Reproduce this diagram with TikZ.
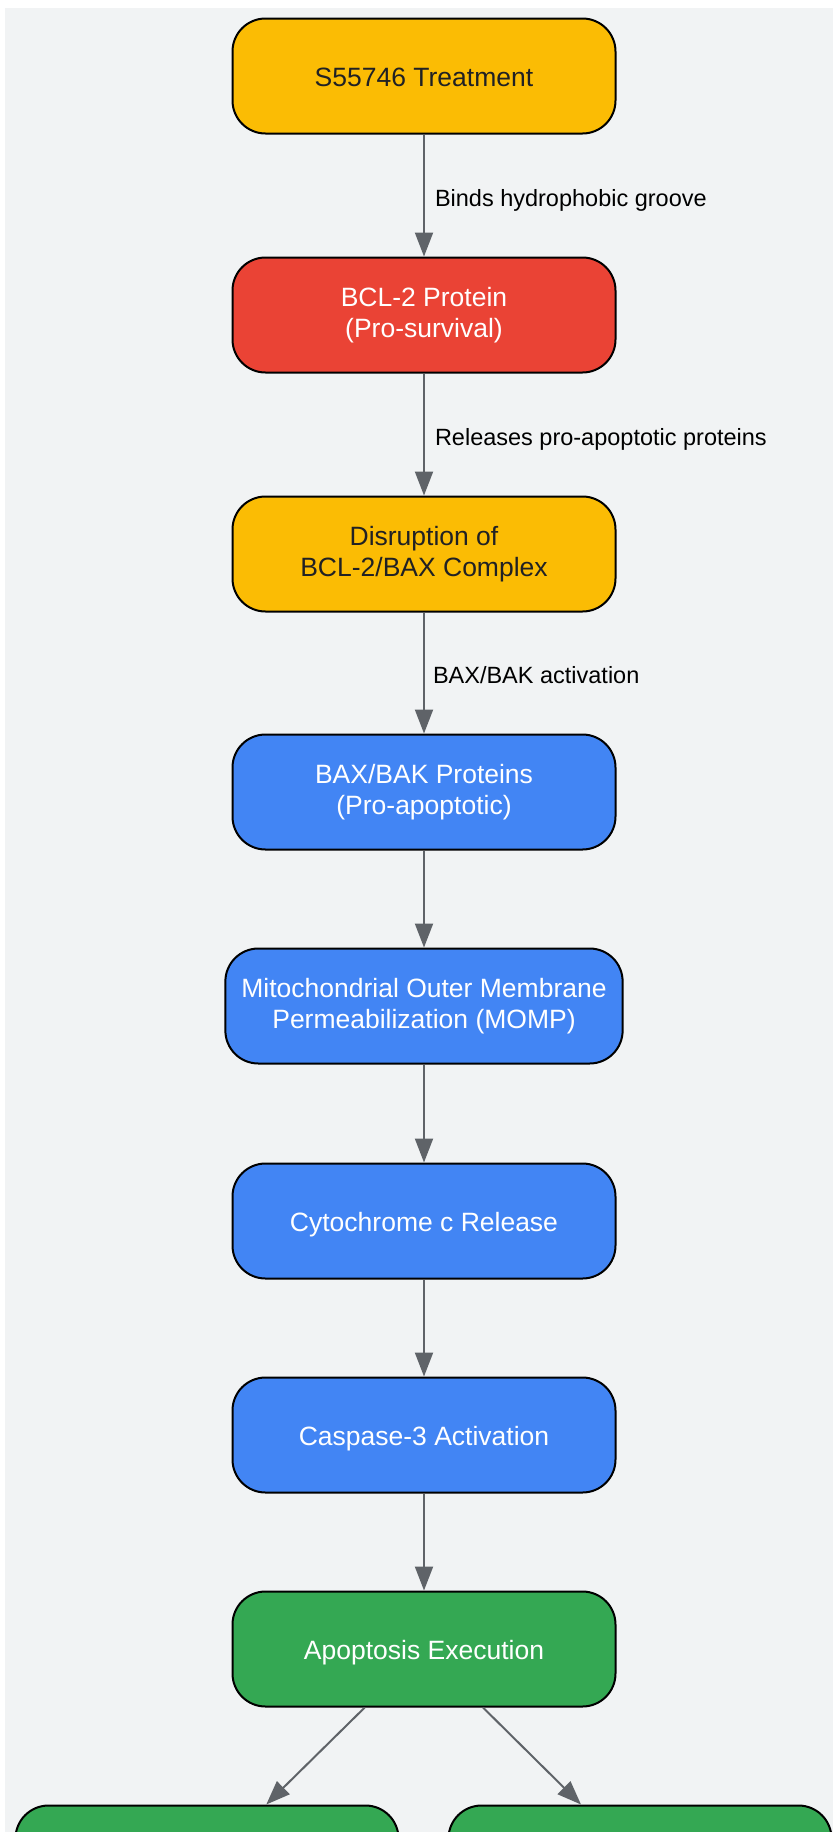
\documentclass[tikz,border=0pt]{standalone}
\usepackage{fontspec}
\setmainfont{Liberation Sans}
\usetikzlibrary{positioning, arrows.meta}
\tikzset{>={Triangle[length=24pt, width=18pt]}}
\definecolor{panelgray}{HTML}{F1F3F4}
\definecolor{gyellow}{HTML}{FBBC04}
\definecolor{gred}{HTML}{EA4335}
\definecolor{gblue}{HTML}{4285F4}
\definecolor{ggreen}{HTML}{34A853}
\definecolor{edgegray}{HTML}{5F6368}
\definecolor{darktext}{HTML}{202124}
\newcommand{\linestrut}{\rule[-5.6pt]{0pt}{31.6pt}}
\tikzset{
  stage/.style={draw=black, line width=2pt, rounded corners=33pt,
    minimum width=383pt, minimum height=115pt, inner xsep=16pt,
    align=center, font=\fontsize{26.5}{31.6}\selectfont,
    execute at begin node=\linestrut, execute at end node=\linestrut},
  drugbox/.style={stage, fill=gyellow, text=darktext},
  survbox/.style={stage, fill=gred, text=white},
  apobox/.style={stage, fill=gblue, text=white},
  deathbox/.style={stage, fill=ggreen, text=white},
  flow/.style={->, draw=edgegray, line width=2pt},
  flowlabel/.style={anchor=west, inner sep=0pt, xshift=10pt, text=black,
    text height=25pt, text depth=4pt,
    font=\fontsize{23.5}{28}\selectfont}
}

\begin{document}
\begin{tikzpicture}[x=1pt, y=-1pt]
    \useasboundingbox (0,0) rectangle (833,1832);
    \clip (0,0) rectangle (833,1832);
    \fill[panelgray] (5,8) rectangle (833,1832);

    \node[drugbox] (treat) at (424,76) {S55746 Treatment};
    \node[survbox, below=122pt of treat] (bcl) {BCL-2 Protein\\(Pro-survival)};
    \node[drugbox, below=122pt of bcl] (disrupt) {Disruption of\\BCL-2/BAX Complex};
    \node[apobox, below=121pt of disrupt] (bax) {BAX/BAK Proteins\\(Pro-apoptotic)};
    \node[apobox, below=97pt of bax] (momp) {Mitochondrial Outer Membrane\\Permeabilization (MOMP)};
    \node[apobox, below=98pt of momp] (cytc) {Cytochrome c Release};
    \node[apobox, below=97pt of cytc] (casp) {Caspase-3 Activation};
    \node[deathbox, below=97pt of casp] (exec) {Apoptosis Execution};

    % lower row, cut by the page edge
    \node[deathbox] (outleft) at (207,1863) {};
    \node[deathbox] (outright) at (640,1863) {};

    \draw[flow] (treat) -- node[flowlabel] {Binds hydrophobic groove} (bcl);
    \draw[flow] (bcl) -- node[flowlabel] {Releases pro-apoptotic proteins} (disrupt);
    \draw[flow] (disrupt) -- node[flowlabel, xshift=-2pt] {BAX/BAK activation} (bax);
    \draw[flow] (bax) -- (momp);
    \draw[flow] (momp) -- (cytc);
    \draw[flow] (cytc) -- (casp);
    \draw[flow] (casp) -- (exec);
    \draw[flow] (exec) -- (outleft);
    \draw[flow] (exec) -- (outright);
\end{tikzpicture}
\end{document}
